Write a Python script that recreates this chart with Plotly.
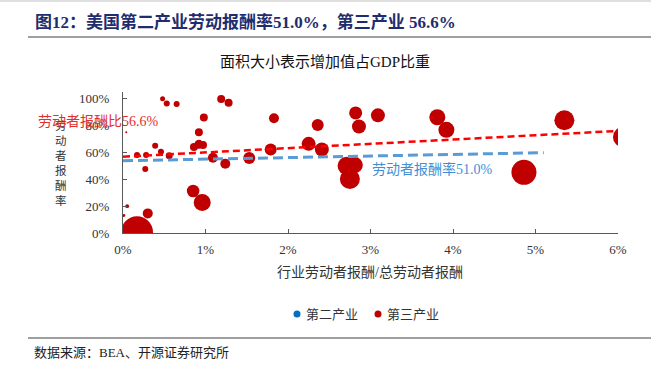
import plotly.graph_objects as go

# ---------------- data ----------------
# tertiary industries: x = industry compensation / total compensation (%),
# y = labour compensation ratio (%), share = value added share of GDP (%)
ter_x = [0.17, 0.01, 0.05, 0.30, 0.04, 0.17, 0.28, 0.27, 0.39, 0.46, 0.56,
         0.48, 0.53, 0.65, 0.85, 0.96, 0.86, 0.92, 0.97, 0.92, 0.98, 1.19,
         1.28, 1.09, 1.24, 1.53, 1.83, 1.79, 2.25, 2.41, 2.36, 2.82, 2.86,
         3.09, 2.71, 2.81, 2.75, 3.81, 3.92, 4.86, 5.35, 6.06]
ter_y = [0.5, 13, 20, 14.6, 75, 58, 58, 47.6, 65, 60.5, 57.5,
         100, 96.5, 96, 31.3, 22.7, 64, 66, 65.5, 75, 86, 99.8,
         97, 56, 51.6, 55.8, 85.4, 62.2, 66.4, 62.2, 80.5, 89.4, 79.3,
         87.6, 50, 50.6, 40.2, 86.2, 76.8, 45.2, 84, 71.5]
ter_share = [13.0, 0.11, 0.2, 1.27, 0.05, 0.46, 0.46, 0.46, 0.46, 0.46, 0.62,
             0.32, 0.46, 0.46, 2.0, 3.67, 0.81, 1.03, 0.81, 0.81, 0.81, 0.81,
             0.81, 1.27, 1.27, 1.83, 1.27, 1.83, 2.49, 2.49, 1.83, 2.15, 2.49,
             2.49, 4.11, 3.25, 5.08, 3.25, 3.25, 7.93, 5.08, 5.08]

# trend lines
trend_sec_x = [0, 5.1]
trend_sec_y = [53.8, 59.8]
trend_ter_x = [0, 6.0]
trend_ter_y = [56.8, 76.0]

series_names = ["第二产业", "第三产业"]

x_ticks = [0, 1, 2, 3, 4, 5, 6]
x_ticklabels = ["0%", "1%", "2%", "3%", "4%", "5%", "6%"]
y_ticks = [0, 20, 40, 60, 80, 100]
y_ticklabels = ["0%", "20%", "40%", "60%", "80%", "100%"]

title_text = "图12：美国第二产业劳动报酬率51.0%，第三产业 56.6%"
subtitle_text = "面积大小表示增加值占GDP比重"
xaxis_title = "行业劳动者报酬/总劳动者报酬"
yaxis_title = "劳动者报酬率"
label_sec = "劳动者报酬率51.0%"
label_ter = "劳动者报酬比56.6%"
source_text = "数据来源：BEA、开源证券研究所"

# ---------------- layout helpers ----------------
W, H = 651, 368
L, R, T, B = 123, 33, 92, 135
PW, PH = W - L - R, H - T - B


def px(xp):
    return (xp - L) / PW


def py(yp):
    return (H - B - yp) / PH


FONT = "Liberation Serif, Noto Sans CJK SC, serif"
RED = "#C00000"
BLUE = "#0070C0"
series_colors = [BLUE, RED]

fig = go.Figure()

fig.add_trace(go.Scatter(
    x=ter_x, y=ter_y, mode="markers", showlegend=False,
    name=series_names[1],
    marker=dict(size=ter_share, sizemode="area",
                sizeref=2 * max(ter_share) / (32 ** 2),
                color=RED, line=dict(width=0), opacity=1),
    hoverinfo="skip"))

fig.add_trace(go.Scatter(
    x=trend_ter_x, y=trend_ter_y, mode="lines", showlegend=False,
    line=dict(color="#FF0000", width=2.5, dash="7px,4px")))
fig.add_trace(go.Scatter(
    x=trend_sec_x, y=trend_sec_y, mode="lines", showlegend=False,
    line=dict(color="#5B9BD5", width=3, dash="10px,5px")))

annotations = [
    dict(text="<b>" + title_text + "</b>", x=px(33), y=py(22), xanchor="left",
         yanchor="middle", font=dict(size=17, color="#1F2D6E", family=FONT)),
    dict(text=subtitle_text, x=px(325), y=py(62), xanchor="center",
         yanchor="middle", font=dict(size=15, color="#111111", family=FONT)),
    dict(text=xaxis_title, x=px(370), y=py(272), xanchor="center",
         yanchor="middle", font=dict(size=14, color="#333333", family=FONT)),
    dict(text="<br>".join(list(yaxis_title)), x=px(61), y=py(163),
         xanchor="center", yanchor="middle",
         font=dict(size=11.5, color="#333333", family=FONT)),
    dict(text=label_ter, x=px(98), y=py(121), xanchor="center",
         yanchor="middle", font=dict(size=14, color="#E03030", family=FONT)),
    dict(text=label_sec, x=px(432), y=py(169), xanchor="center",
         yanchor="middle", font=dict(size=14, color="#3E8FD6", family=FONT)),
    dict(text=source_text, x=px(32), y=py(352), xanchor="left",
         yanchor="middle", font=dict(size=13, color="#222222", family=FONT)),
]

shapes = [
    dict(type="line", xref="paper", yref="paper", x0=px(0), x1=px(W),
         y0=py(1), y1=py(1), line=dict(color="#BFBFBF", width=1)),
    dict(type="line", xref="paper", yref="paper", x0=px(28), x1=px(W),
         y0=py(37), y1=py(37), line=dict(color="#7F7F7F", width=1.5)),
    dict(type="line", xref="paper", yref="paper", x0=px(28), x1=px(W),
         y0=py(338), y1=py(338), line=dict(color="#7F7F7F", width=1.5)),
]

# manual legend (compact, as in the reference)
legend_marker_x = [297, 378]
LEG_Y = 314
for name, col, lx in zip(series_names, series_colors, legend_marker_x):
    shapes.append(dict(type="circle", xref="paper", yref="paper",
                       xsizemode="pixel", ysizemode="pixel",
                       xanchor=px(lx), yanchor=py(LEG_Y),
                       x0=-3.5, x1=3.5, y0=-3.5, y1=3.5,
                       fillcolor=col, line=dict(width=0)))
    annotations.append(dict(
        text=name, x=px(lx + 7), y=py(LEG_Y), xanchor="left",
        yanchor="middle", font=dict(size=13, color="#333333", family=FONT)))

for a in annotations:
    a.update(xref="paper", yref="paper", showarrow=False)

axis_common = dict(showgrid=False, zeroline=False, showline=True,
                   linecolor="#595959", linewidth=1.2, ticks="inside",
                   ticklen=4, tickcolor="#595959",
                   tickfont=dict(size=13, color="#333333", family=FONT))

fig.update_layout(
    width=W, height=H, margin=dict(l=L, r=R, t=T, b=B),
    paper_bgcolor="white", plot_bgcolor="white",
    xaxis=dict(range=[0, 6], tickvals=x_ticks, ticktext=x_ticklabels,
               ticklabelstandoff=4, **axis_common),
    yaxis=dict(range=[0, 105], tickvals=y_ticks, ticktext=y_ticklabels,
               ticklabelstandoff=10, **axis_common),
    showlegend=False,
    annotations=annotations, shapes=shapes,
    font=dict(family=FONT),
)

fig.write_html("out.html",
               config={"displayModeBar": False},
               post_script="document.body.style.margin='0';"
                           "document.body.style.padding='0';")
